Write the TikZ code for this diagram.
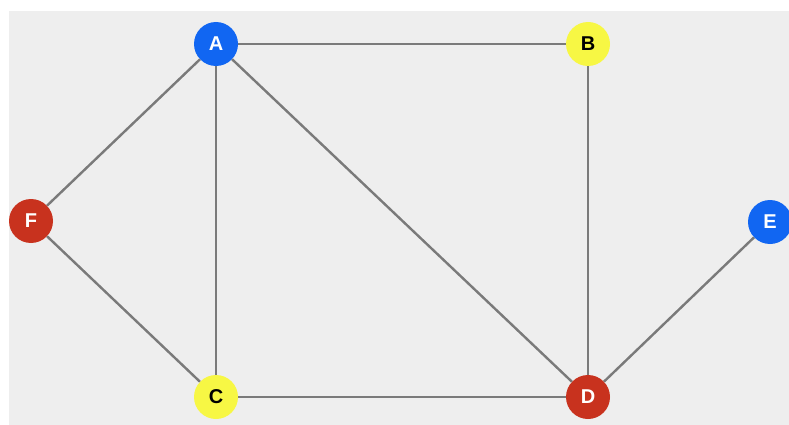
\documentclass[tikz,border=0pt]{standalone}
\usepackage{fontspec}
\setmainfont{Liberation Sans}
\definecolor{bgc}{HTML}{EEEEEE}
\definecolor{nblue}{HTML}{1166F2}
\definecolor{nred}{HTML}{C8321E}
\definecolor{nyellow}{HTML}{F7F744}
\definecolor{edgec}{HTML}{7A7A7A}
\begin{document}
\begin{tikzpicture}[x=1pt,y=-1pt,
  vtx/.style={circle,inner sep=0pt,minimum size=44pt,font=\fontsize{20}{20}\selectfont\bfseries},
  bluev/.style={vtx,fill=nblue,text=white},
  redv/.style={vtx,fill=nred,text=white},
  yelv/.style={vtx,fill=nyellow,text=black},
  edge/.style={draw=edgec,line width=2.4pt}]
\useasboundingbox (0,0) rectangle (789,425);
\fill[white] (0,0) rectangle (789,425);
\fill[bgc] (9,11) rectangle (789,425);
\node[bluev] (A) at (216,44) {A};
\node[yelv] (B) at (588,44) {B};
\node[redv] (F) at (31,221) {F};
\node[bluev] (E) at (770,222) {E};
\node[yelv] (C) at (216,397) {C};
\node[redv] (D) at (588,397) {D};
\path[edge] (A) -- (B);
\path[edge] (A) -- (F);
\path[edge] (A) -- (C);
\path[edge] (A) -- (D);
\path[edge] (B) -- (D);
\path[edge] (F) -- (C);
\path[edge] (C) -- (D);
\path[edge] (E) -- (D);
\end{tikzpicture}
\end{document}
